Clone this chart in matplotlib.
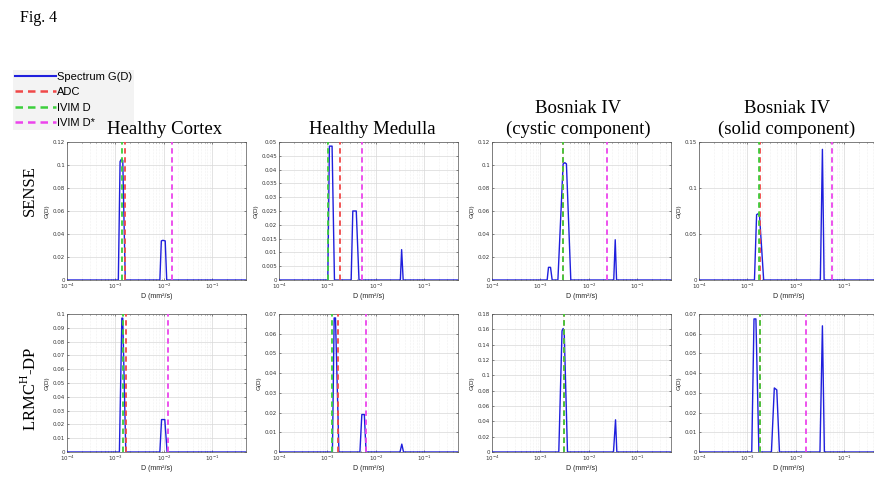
import numpy as np
import matplotlib
matplotlib.use("Agg")
import matplotlib.pyplot as plt
from matplotlib.lines import Line2D
from matplotlib.ticker import LogLocator, FuncFormatter, MultipleLocator

# ─────────────────────────────────────────────
# 데이터
# ─────────────────────────────────────────────
columns = ["Healthy Cortex", "Healthy Medulla",
           "Bosniak IV\n(cystic component)", "Bosniak IV\n(solid component)"]
rows = ["SENSE", "LRMC$^{\\mathdefault{H}}$-DP"]

# SENSE 스펙트럼 G(D)
sense_cortex_D = [1e-4, 1.15e-3, 1.25e-3, 1.33e-3, 1.42e-3, 1.6e-3, 8.3e-3, 8.9e-3, 9.6e-3, 1.07e-2, 1.15e-2, 0.5]
sense_cortex_G = [0, 0, 0.103, 0.105, 0.104, 0, 0, 0.034, 0.0345, 0.034, 0, 0]
sense_medulla_D = [1e-4, 1.02e-3, 1.1e-3, 1.25e-3, 1.4e-3, 3.1e-3, 3.35e-3, 3.95e-3, 4.5e-3, 0.0322, 0.0342, 0.0368, 0.5]
sense_medulla_G = [0, 0, 0.0485, 0.0485, 0, 0, 0.025, 0.025, 0, 0, 0.011, 0, 0]
sense_cystic_D = [1e-4, 1.38e-3, 1.47e-3, 1.62e-3, 1.75e-3, 2.3e-3, 2.95e-3, 3.2e-3, 3.45e-3, 4.25e-3, 0.0328, 0.0352, 0.0375, 0.5]
sense_cystic_G = [0, 0, 0.011, 0.011, 0, 0, 0.101, 0.102, 0.101, 0, 0, 0.035, 0, 0]
sense_solid_D = [1e-4, 1.4e-3, 1.55e-3, 1.66e-3, 1.78e-3, 2.17e-3, 0.0322, 0.0355, 0.0385, 0.5]
sense_solid_G = [0, 0, 0.071, 0.072, 0.070, 0, 0, 0.142, 0, 0]

# LRMC^H-DP 스펙트럼 G(D)
lrmc_cortex_D = [1e-4, 1.21e-3, 1.36e-3, 1.42e-3, 1.64e-3, 8.3e-3, 9.0e-3, 1.05e-2, 1.17e-2, 0.5]
lrmc_cortex_G = [0, 0, 0.097, 0.097, 0, 0, 0.0235, 0.0235, 0, 0]
lrmc_medulla_D = [1e-4, 1.27e-3, 1.38e-3, 1.47e-3, 1.73e-3, 4.7e-3, 5.15e-3, 5.8e-3, 6.3e-3, 0.0317, 0.0345, 0.0374, 0.5]
lrmc_medulla_G = [0, 0, 0.068, 0.068, 0, 0, 0.019, 0.019, 0, 0, 0.004, 0, 0]
lrmc_cystic_D = [1e-4, 2.4e-3, 2.8e-3, 2.95e-3, 3.1e-3, 3.63e-3, 0.0324, 0.0357, 0.038, 0.5]
lrmc_cystic_G = [0, 0, 0.158, 0.161, 0.158, 0, 0, 0.042, 0, 0]
lrmc_solid_D = [1e-4, 1.23e-3, 1.37e-3, 1.5e-3, 1.73e-3, 3.14e-3, 3.6e-3, 4.05e-3, 4.6e-3, 0.0316, 0.0355, 0.039, 0.5]
lrmc_solid_G = [0, 0, 0.0675, 0.0675, 0, 0, 0.0325, 0.0315, 0, 0, 0.064, 0, 0]

# 수직선 (ADC, IVIM D, IVIM D*) — None이면 표시 안 함
sense_adc = [1.6e-3, 1.8e-3, 3.0e-3, 1.78e-3]
sense_ivim_d = [1.4e-3, 1.05e-3, 3.0e-3, 1.76e-3]
sense_ivim_dstar = [0.0148, 5.3e-3, 0.024, 0.056]
lrmc_adc = [1.67e-3, 1.65e-3, 3.1e-3, 1.78e-3]
lrmc_ivim_d = [1.47e-3, 1.27e-3, 3.1e-3, 1.82e-3]
lrmc_ivim_dstar = [0.0121, 6.4e-3, None, 0.0165]

# y축 범위 / 눈금 간격
sense_ymax = [0.12, 0.05, 0.12, 0.15]
sense_ystep = [0.02, 0.005, 0.02, 0.05]
lrmc_ymax = [0.1, 0.07, 0.18, 0.07]
lrmc_ystep = [0.01, 0.01, 0.02, 0.01]

spectra = [
    [(sense_cortex_D, sense_cortex_G), (sense_medulla_D, sense_medulla_G),
     (sense_cystic_D, sense_cystic_G), (sense_solid_D, sense_solid_G)],
    [(lrmc_cortex_D, lrmc_cortex_G), (lrmc_medulla_D, lrmc_medulla_G),
     (lrmc_cystic_D, lrmc_cystic_G), (lrmc_solid_D, lrmc_solid_G)],
]
vlines = [(sense_adc, sense_ivim_d, sense_ivim_dstar),
          (lrmc_adc, lrmc_ivim_d, lrmc_ivim_dstar)]
ylims = [(sense_ymax, sense_ystep), (lrmc_ymax, lrmc_ystep)]

# ─────────────────────────────────────────────
# 스타일
# ─────────────────────────────────────────────
C_SPEC = "#1f1fdd"
C_ADC = "#f04848"
C_D = "#3ccf3c"
C_DSTAR = "#ec44ec"
SERIF = ["Liberation Serif", "DejaVu Serif"]
SANS = ["Liberation Sans", "DejaVu Sans"]

W, H = 874, 482
fig = plt.figure(figsize=(W / 100, H / 100), dpi=100)

# 패널 위치 (픽셀 -> figure 비율)
lefts_px = [67, 279, 492, 699]
width_px = 179
row_px = [(142, 280), (314, 452)]

fmt_y = FuncFormatter(lambda v, p: f"{v:g}")

for r in range(2):
    top_px, bot_px = row_px[r]
    for c in range(4):
        ax = fig.add_axes([lefts_px[c] / W, 1 - bot_px / H,
                           width_px / W, (bot_px - top_px) / H])
        D, G = spectra[r][c]
        ax.plot(D, G, color=C_SPEC, lw=1.0, zorder=3)

        adc, dd, dstar = vlines[r]
        for val, col in ((adc[c], C_ADC), (dd[c], C_D), (dstar[c], C_DSTAR)):
            if val is not None:
                ax.axvline(val, color=col, lw=1.3, ls=(0, (3, 2)), zorder=4)

        ymax, ystep = ylims[r][0][c], ylims[r][1][c]
        ax.set_xscale("log")
        ax.set_xlim(1e-4, 0.5)
        ax.set_ylim(0, ymax)
        ax.yaxis.set_major_locator(MultipleLocator(ystep))
        ax.yaxis.set_major_formatter(fmt_y)
        ax.xaxis.set_major_locator(LogLocator(base=10, numticks=10))
        ax.xaxis.set_minor_locator(LogLocator(base=10, subs=np.arange(2, 10), numticks=20))

        ax.grid(True, which="major", color="#d8d8d8", lw=0.5)
        ax.grid(True, which="minor", axis="x", color="#e4e4e4", lw=0.4, ls=":")
        ax.set_axisbelow(True)
        ax.tick_params(which="both", direction="in", labelsize=4, length=1.5,
                       width=0.4, colors="#333333", top=True, right=True, pad=1.5)
        ax.tick_params(which="minor", length=0.8)
        for s in ax.spines.values():
            s.set_linewidth(0.5)
            s.set_color("#555555")

        ax.set_xlabel("D (mm²/s)", fontsize=5, family=SANS, labelpad=1.5, color="#222222")
        ax.set_ylabel("G(D)", fontsize=4.5, family=SANS, labelpad=2, color="#222222")

# 열 제목
title_x_px = [165, 372, 578, 787]
for c, name in enumerate(columns):
    lines = name.split("\n")
    if len(lines) == 1:
        fig.text(title_x_px[c] / W, 1 - 134 / H, lines[0], ha="center", va="baseline",
                 fontsize=13.5, family=SERIF, zorder=5)
    else:
        fig.text(title_x_px[c] / W, 1 - 113 / H, lines[0], ha="center", va="baseline",
                 fontsize=13.5, family=SERIF, zorder=5)
        fig.text(title_x_px[c] / W, 1 - 134 / H, lines[1], ha="center", va="baseline",
                 fontsize=13.5, family=SERIF, zorder=5)

# 행 제목
row_y_px = [191, 389]
for r, name in enumerate(rows):
    fig.text(30 / W, 1 - row_y_px[r] / H, name, rotation=90, ha="center", va="center",
             fontsize=12, family=SERIF)

fig.text(20 / W, 1 - 22 / H, "Fig. 4", ha="left", va="baseline", fontsize=11.5, family=SERIF)

# 범례
handles = [
    Line2D([], [], color=C_SPEC, lw=1.5),
    Line2D([], [], color=C_ADC, lw=1.8, ls=(0, (3, 2))),
    Line2D([], [], color=C_D, lw=1.8, ls=(0, (3, 2))),
    Line2D([], [], color=C_DSTAR, lw=1.8, ls=(0, (3, 2))),
]
leg = fig.legend(handles, ["Spectrum G(D)", "ADC", "IVIM D", "IVIM D*"],
                 loc="upper left", bbox_to_anchor=(13 / W, 1 - 70 / H),
                 frameon=True, facecolor="#f3f3f3", edgecolor="none", framealpha=1,
                 fancybox=False, borderpad=0.15, handlelength=3.7, handletextpad=0.1,
                 labelspacing=0.5, borderaxespad=0, prop={"family": SANS, "size": 8})
leg.set_zorder(0)

fig.savefig("out.png", dpi=100)
